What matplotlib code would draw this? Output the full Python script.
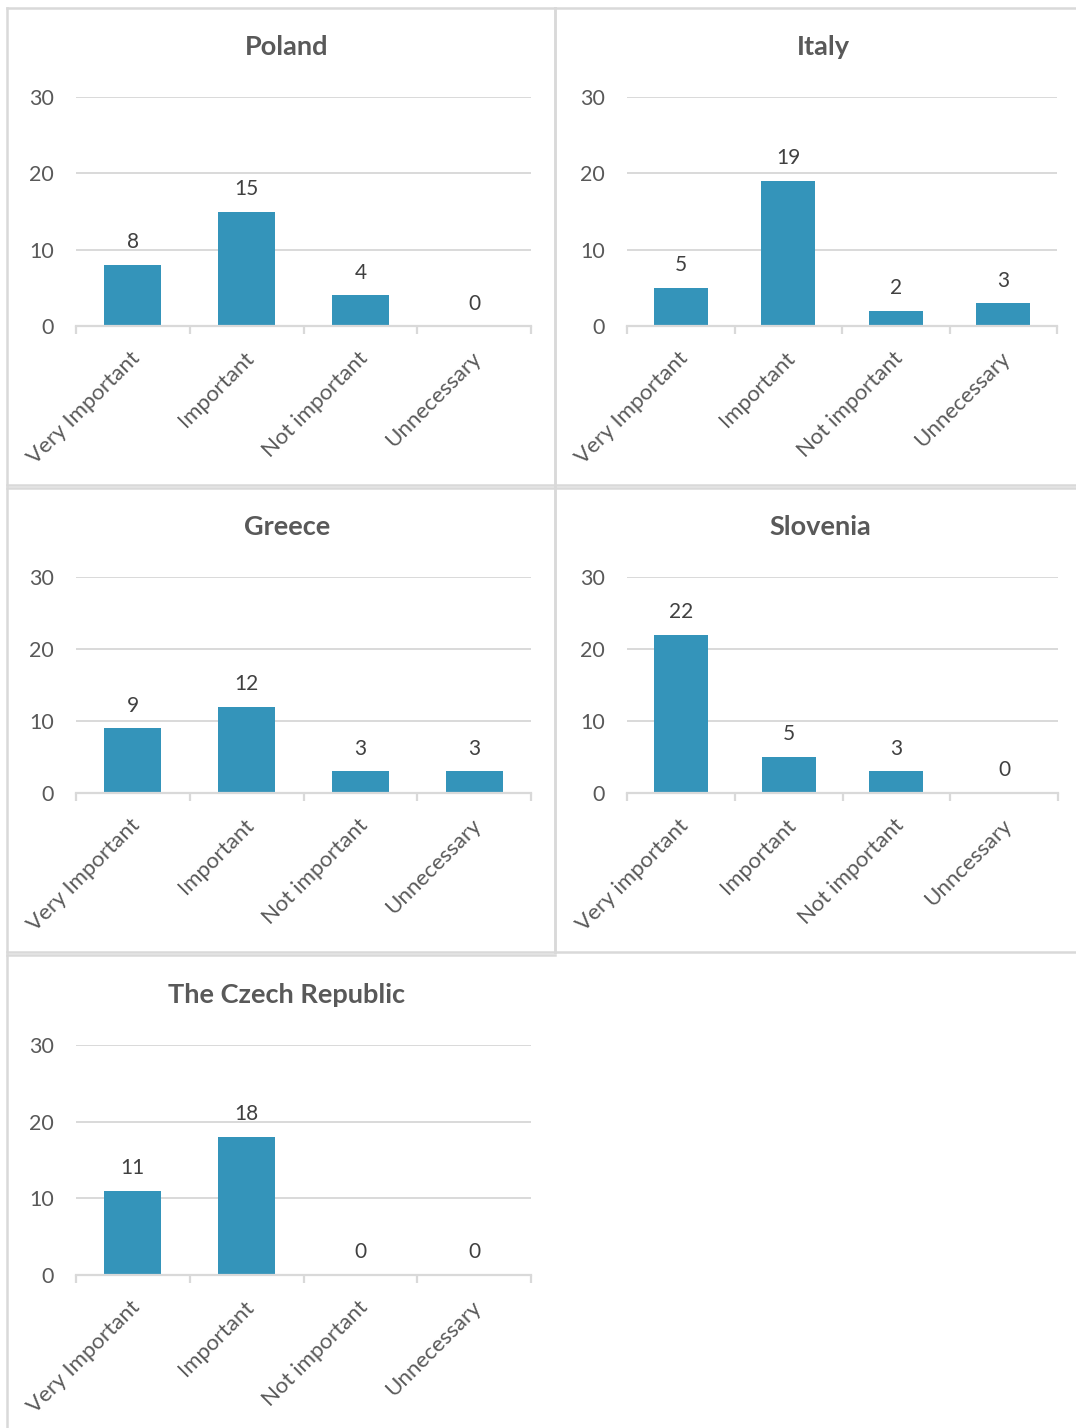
import matplotlib
matplotlib.use("Agg")
import matplotlib.pyplot as plt
from matplotlib.lines import Line2D
from matplotlib.transforms import ScaledTranslation

plt.rcParams['font.family'] = ['Lato', 'DejaVu Sans']

# survey answers per country
cats_default = ['Very Important', 'Important', 'Not important', 'Unnecessary']
cats_slovenia = ['Very important', 'Important', 'Not important', 'Unncessary']

poland = [8, 15, 4, 0]
italy = [5, 19, 2, 3]
greece = [9, 12, 3, 3]
slovenia = [22, 5, 3, 0]
czech = [11, 18, 0, 0]

BAR = '#3494ba'
GRID = '#d9d9d9'
TICK_TXT = '#595959'
LABEL_TXT = '#404040'

W, H = 1076, 1428
fig = plt.figure(figsize=(W / 100, H / 100), dpi=100)
fig.patch.set_facecolor('white')


def line(x0, y0, x1, y1):
    fig.lines.append(Line2D([x0 / W, x1 / W], [1 - y0 / H, 1 - y1 / H],
                           transform=fig.transFigure, color=GRID, linewidth=1.8))


def frame(x0, y0, x1, y1, right=True, bottom=True):
    line(x0, y0, x1, y0)
    line(x0, y0, x0, y1)
    if right:
        line(x1, y0, x1, y1)
    if bottom:
        line(x0, y1, x1, y1)


def panel(title, cats, vals, box, title_xy):
    left, right, top, bottom = box
    ax = fig.add_axes([left / W, 1 - bottom / H, (right - left) / W, (bottom - top) / H])
    x = range(len(cats))
    bars = ax.bar(x, vals, width=0.5, color=BAR, linewidth=0, zorder=3)
    ax.bar_label(bars, padding=9, fontsize=15, color=LABEL_TXT)

    ax.set_xlim(-0.5, len(cats) - 0.5)
    ax.set_ylim(0, 30)
    ax.set_yticks([0, 10, 20, 30])
    ax.yaxis.grid(True, color=GRID, linewidth=1.4, zorder=0)
    ax.set_axisbelow(True)
    for s in ['top', 'right', 'left']:
        ax.spines[s].set_visible(False)
    ax.spines['bottom'].set_color(GRID)
    ax.spines['bottom'].set_linewidth(1.6)
    ax.spines['bottom'].set_zorder(4)

    ax.tick_params(axis='y', length=0, pad=16, labelsize=15.5, labelcolor=TICK_TXT)
    ax.set_xticks(list(x))
    ax.set_xticklabels(cats, rotation=45, ha='right', va='center',
                       rotation_mode='anchor', fontsize=16, color=TICK_TXT)
    ax.tick_params(axis='x', which='major', length=0, pad=21)
    ax.set_xticks([i - 0.5 for i in range(len(cats) + 1)], minor=True)
    ax.tick_params(axis='x', which='minor', length=6, width=1.6, color=GRID)
    shift = ScaledTranslation(4 / 100, 0, fig.dpi_scale_trans)
    for lab in ax.get_xticklabels():
        lab.set_transform(lab.get_transform() + shift)

    fig.text(title_xy[0] / W, 1 - title_xy[1] / H, title, ha='center', va='center',
             fontsize=19.5, fontweight='bold', color=TICK_TXT)
    return ax


# chart frames
frame(7, 8, 555, 485)
frame(555, 8, 1090, 485)
frame(7, 488, 555, 952)
frame(555, 488, 1090, 952)
frame(7, 955, 555, 1440, right=False, bottom=False)

panel('Poland', cats_default, poland, (76, 531, 97, 326), (287, 47))
panel('Italy', cats_default, italy, (627, 1057, 97, 326), (823, 47))
panel('Greece', cats_default, greece, (76, 531, 577, 793), (287, 527))
panel('Slovenia', cats_slovenia, slovenia, (627, 1058, 577, 793), (820, 527))
panel('The Czech Republic', cats_default, czech, (76, 531, 1045, 1275), (287, 995))

fig.savefig('out.png', dpi=100)
